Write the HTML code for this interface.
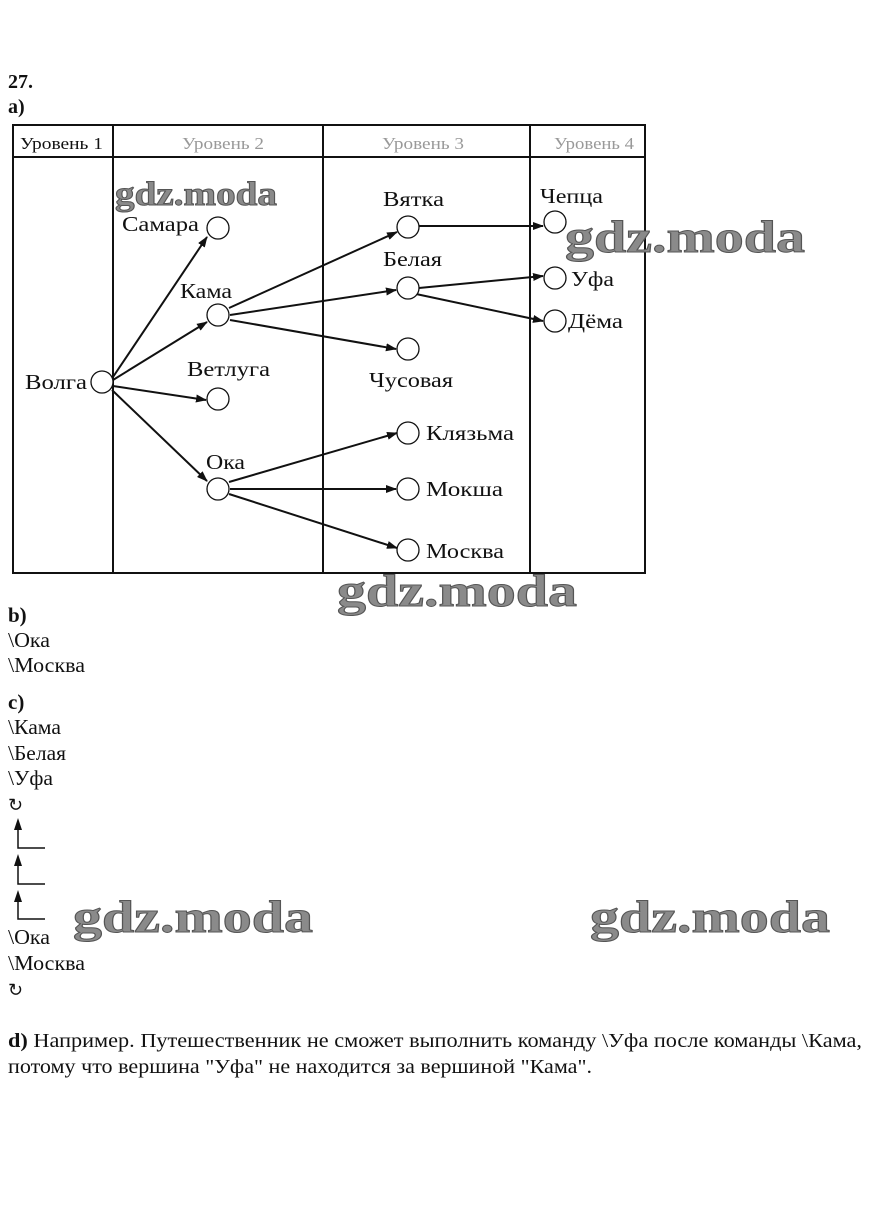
<!DOCTYPE html>
<html><head><meta charset="utf-8"><style>
html,body{margin:0;padding:0;background:#fff;}
svg{display:block;}
text{font-family:"Liberation Serif","Times New Roman",serif;fill:#111;}
.wm{font-family:"Liberation Serif",serif;font-weight:bold;fill:#8a8a8a;stroke:#555;stroke-width:1;}
</style></head><body>
<svg width="872" height="1219" viewBox="0 0 872 1219" xmlns="http://www.w3.org/2000/svg">
<defs>
<marker id="ah" markerWidth="11" markerHeight="8" refX="10" refY="4" orient="auto" markerUnits="userSpaceOnUse">
<path d="M0,0 L11,4 L0,8 z" fill="#111"/></marker>
</defs>
<text x="8" y="88" font-size="20" font-weight="bold">27.</text>
<text x="8" y="113" font-size="20" font-weight="bold">a)</text>

<g stroke="#111" stroke-width="2" fill="none">
<rect x="13" y="125" width="632" height="448"/>
<line x1="13" y1="157" x2="645" y2="157"/>
<line x1="113" y1="125" x2="113" y2="573"/>
<line x1="323" y1="125" x2="323" y2="573"/>
<line x1="530" y1="125" x2="530" y2="573"/>
</g>
<text x="20" y="149" font-size="17" textLength="83" lengthAdjust="spacingAndGlyphs">Уровень 1</text>
<text x="182" y="149" font-size="17" textLength="82" lengthAdjust="spacingAndGlyphs" style="fill:#999">Уровень 2</text>
<text x="382" y="149" font-size="17" textLength="82" lengthAdjust="spacingAndGlyphs" style="fill:#999">Уровень 3</text>
<text x="554" y="149" font-size="17" textLength="80" lengthAdjust="spacingAndGlyphs" style="fill:#999">Уровень 4</text>

<g stroke="#111" stroke-width="2" fill="none" marker-end="url(#ah)">
<line x1="113" y1="377" x2="207" y2="237"/>
<line x1="113" y1="380" x2="207" y2="322"/>
<line x1="113" y1="386" x2="206" y2="400"/>
<line x1="112" y1="390" x2="207" y2="481"/>
<line x1="229" y1="308" x2="397" y2="232"/>
<line x1="230" y1="315" x2="396" y2="290"/>
<line x1="230" y1="320" x2="396" y2="349"/>
<line x1="229" y1="482" x2="397" y2="433"/>
<line x1="230" y1="489" x2="396" y2="489"/>
<line x1="229" y1="494" x2="397" y2="548"/>
<line x1="419" y1="226" x2="543" y2="226"/>
<line x1="419" y1="288" x2="543" y2="276"/>
<line x1="416" y1="294" x2="543" y2="321"/>
</g>
<g stroke="#111" stroke-width="1.3" fill="#fff">
<circle cx="102" cy="382" r="11"/>
<circle cx="218" cy="228" r="11"/>
<circle cx="218" cy="315" r="11"/>
<circle cx="218" cy="399" r="11"/>
<circle cx="218" cy="489" r="11"/>
<circle cx="408" cy="227" r="11"/>
<circle cx="408" cy="288" r="11"/>
<circle cx="408" cy="349" r="11"/>
<circle cx="408" cy="433" r="11"/>
<circle cx="408" cy="489" r="11"/>
<circle cx="408" cy="550" r="11"/>
<circle cx="555" cy="222" r="11"/>
<circle cx="555" cy="278" r="11"/>
<circle cx="555" cy="321" r="11"/>
</g>
<g font-size="21" lengthAdjust="spacingAndGlyphs">
<text x="25" y="389" textLength="62" lengthAdjust="spacingAndGlyphs">Волга</text>
<text x="122" y="231" textLength="77" lengthAdjust="spacingAndGlyphs">Самара</text>
<text x="180" y="298" textLength="52" lengthAdjust="spacingAndGlyphs">Кама</text>
<text x="187" y="376" textLength="83" lengthAdjust="spacingAndGlyphs">Ветлуга</text>
<text x="206" y="469" textLength="39" lengthAdjust="spacingAndGlyphs">Ока</text>
<text x="383" y="206" textLength="61" lengthAdjust="spacingAndGlyphs">Вятка</text>
<text x="383" y="266" textLength="59" lengthAdjust="spacingAndGlyphs">Белая</text>
<text x="369" y="387" textLength="84" lengthAdjust="spacingAndGlyphs">Чусовая</text>
<text x="426" y="440" textLength="88" lengthAdjust="spacingAndGlyphs">Клязьма</text>
<text x="426" y="496" textLength="77" lengthAdjust="spacingAndGlyphs">Мокша</text>
<text x="426" y="558" textLength="78" lengthAdjust="spacingAndGlyphs">Москва</text>
<text x="540" y="203" textLength="63" lengthAdjust="spacingAndGlyphs">Чепца</text>
<text x="571" y="286" textLength="43" lengthAdjust="spacingAndGlyphs">Уфа</text>
<text x="568" y="328" textLength="55" lengthAdjust="spacingAndGlyphs">Дёма</text>
</g>

<g font-size="21">
<text x="8" y="622" font-weight="bold">b)</text>
<text x="8" y="647" textLength="42" lengthAdjust="spacingAndGlyphs">\Ока</text>
<text x="8" y="672" textLength="77" lengthAdjust="spacingAndGlyphs">\Москва</text>
<text x="8" y="709" font-weight="bold">c)</text>
<text x="8" y="734" textLength="53" lengthAdjust="spacingAndGlyphs">\Кама</text>
<text x="8" y="760" textLength="58" lengthAdjust="spacingAndGlyphs">\Белая</text>
<text x="8" y="785" textLength="45" lengthAdjust="spacingAndGlyphs">\Уфа</text>
<text x="8" y="811" font-size="18">↻</text>
<text x="8" y="944" textLength="42" lengthAdjust="spacingAndGlyphs">\Ока</text>
<text x="8" y="970" textLength="77" lengthAdjust="spacingAndGlyphs">\Москва</text>
<text x="8" y="996" font-size="18">↻</text>
</g>
<g stroke="#111" stroke-width="1.5" fill="none">
<polyline points="18,828 18,848 45,848"/>
<polyline points="18,864 18,884 45,884"/>
<polyline points="18,900 18,919 45,919"/>
</g>
<g fill="#111">
<path d="M18,818 L22,830 L14,830 z"/>
<path d="M18,854 L22,866 L14,866 z"/>
<path d="M18,890 L22,902 L14,902 z"/>
</g>
<text x="8" y="1047" font-size="20" textLength="854" lengthAdjust="spacingAndGlyphs"><tspan font-weight="bold">d)</tspan> Например. Путешественник не сможет выполнить команду \Уфа после команды \Кама,</text>
<text x="8" y="1073" font-size="20" textLength="584" lengthAdjust="spacingAndGlyphs">потому что вершина "Уфа" не находится за вершиной "Кама".</text>

<text class="wm" x="115" y="205" font-size="34" textLength="162" lengthAdjust="spacingAndGlyphs">gdz.moda</text>
<text class="wm" x="565" y="252" font-size="46" textLength="240" lengthAdjust="spacingAndGlyphs">gdz.moda</text>
<text class="wm" x="337" y="606" font-size="46" textLength="240" lengthAdjust="spacingAndGlyphs">gdz.moda</text>
<text class="wm" x="73" y="932" font-size="46" textLength="240" lengthAdjust="spacingAndGlyphs">gdz.moda</text>
<text class="wm" x="590" y="932" font-size="46" textLength="240" lengthAdjust="spacingAndGlyphs">gdz.moda</text>
</svg>
</body></html>
